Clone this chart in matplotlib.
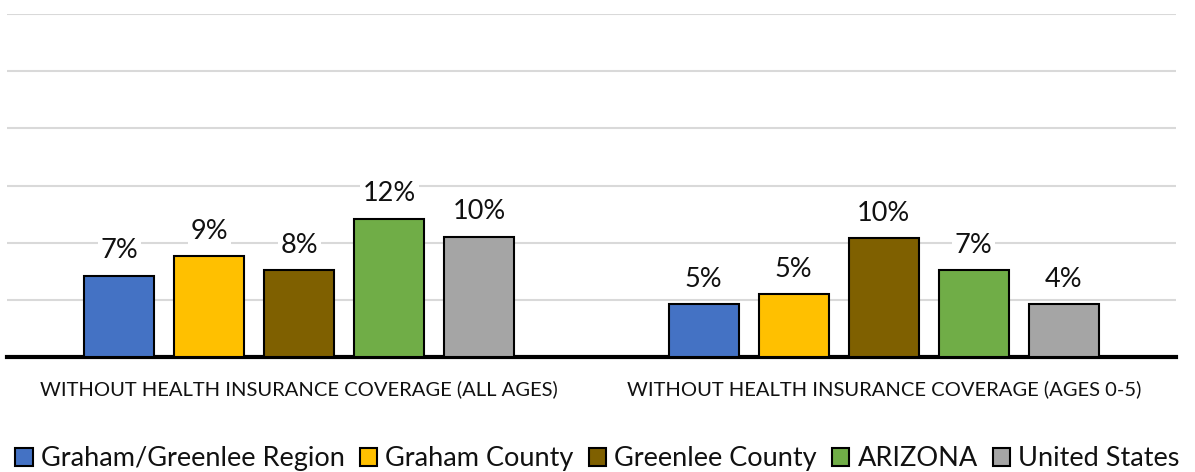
import matplotlib.pyplot as plt
import numpy as np

categories = ['WITHOUT HEALTH INSURANCE COVERAGE (ALL AGES)',
              'WITHOUT HEALTH INSURANCE COVERAGE (AGES 0-5)']
series = ['Graham/Greenlee Region', 'Graham County', 'Greenlee County', 'ARIZONA', 'United States']
colors = ['#4472C4', '#FFC000', '#7F6000', '#70AD47', '#A5A5A5']

values = [
    [7.1, 4.6],
    [8.8, 5.5],
    [7.6, 10.4],
    [12.1, 7.6],
    [10.5, 4.6],
]
labels = [
    ['7%', '5%'],
    ['9%', '5%'],
    ['8%', '10%'],
    ['12%', '7%'],
    ['10%', '4%'],
]

plt.rcParams['font.family'] = ['Lato', 'DejaVu Sans']

fig = plt.figure(figsize=(11.95, 4.72), dpi=100)
ax = fig.add_axes([7 / 1195, 1 - 357 / 472, 1169 / 1195, 343 / 472])

x = np.arange(len(categories))
width = 0.12
step = 0.154

for i, (name, col) in enumerate(zip(series, colors)):
    pos = x + (i - 2) * step
    bars = ax.bar(pos, values[i], width, color=col, edgecolor='black', linewidth=1.5,
                  label=name, zorder=3)
    for b, lab in zip(bars, labels[i]):
        ax.annotate(lab, (b.get_x() + b.get_width() / 2, b.get_height()),
                    xytext=(0, 9), textcoords='offset points', ha='center', va='bottom',
                    fontsize=19.5, color='#111111', zorder=4,
                    bbox=dict(facecolor='white', edgecolor='none', pad=2))

ax.set_xlim(-0.5, 1.5)
ax.set_ylim(0, 30)
ax.set_yticks(np.arange(0, 31, 5))
ax.yaxis.grid(True, color='#d9d9d9', linewidth=1.5, zorder=0)
ax.set_axisbelow(True)
ax.tick_params(axis='y', left=False, labelleft=False)
ax.tick_params(axis='x', bottom=False, pad=13)
ax.set_xticks(x)
ax.set_xticklabels(categories, fontsize=14.5, color='#111111')
for s in ['top', 'right', 'left']:
    ax.spines[s].set_visible(False)
ax.spines['bottom'].set_linewidth(3)
ax.spines['bottom'].set_color('black')

fig.legend(loc='lower center', bbox_to_anchor=(0.5, -0.05), ncol=5, frameon=False,
           fontsize=19.5, handlelength=0.65, handleheight=0.65, handletextpad=0.3,
           columnspacing=0.55, labelcolor='#111111')

plt.savefig('out.png', dpi=100)
